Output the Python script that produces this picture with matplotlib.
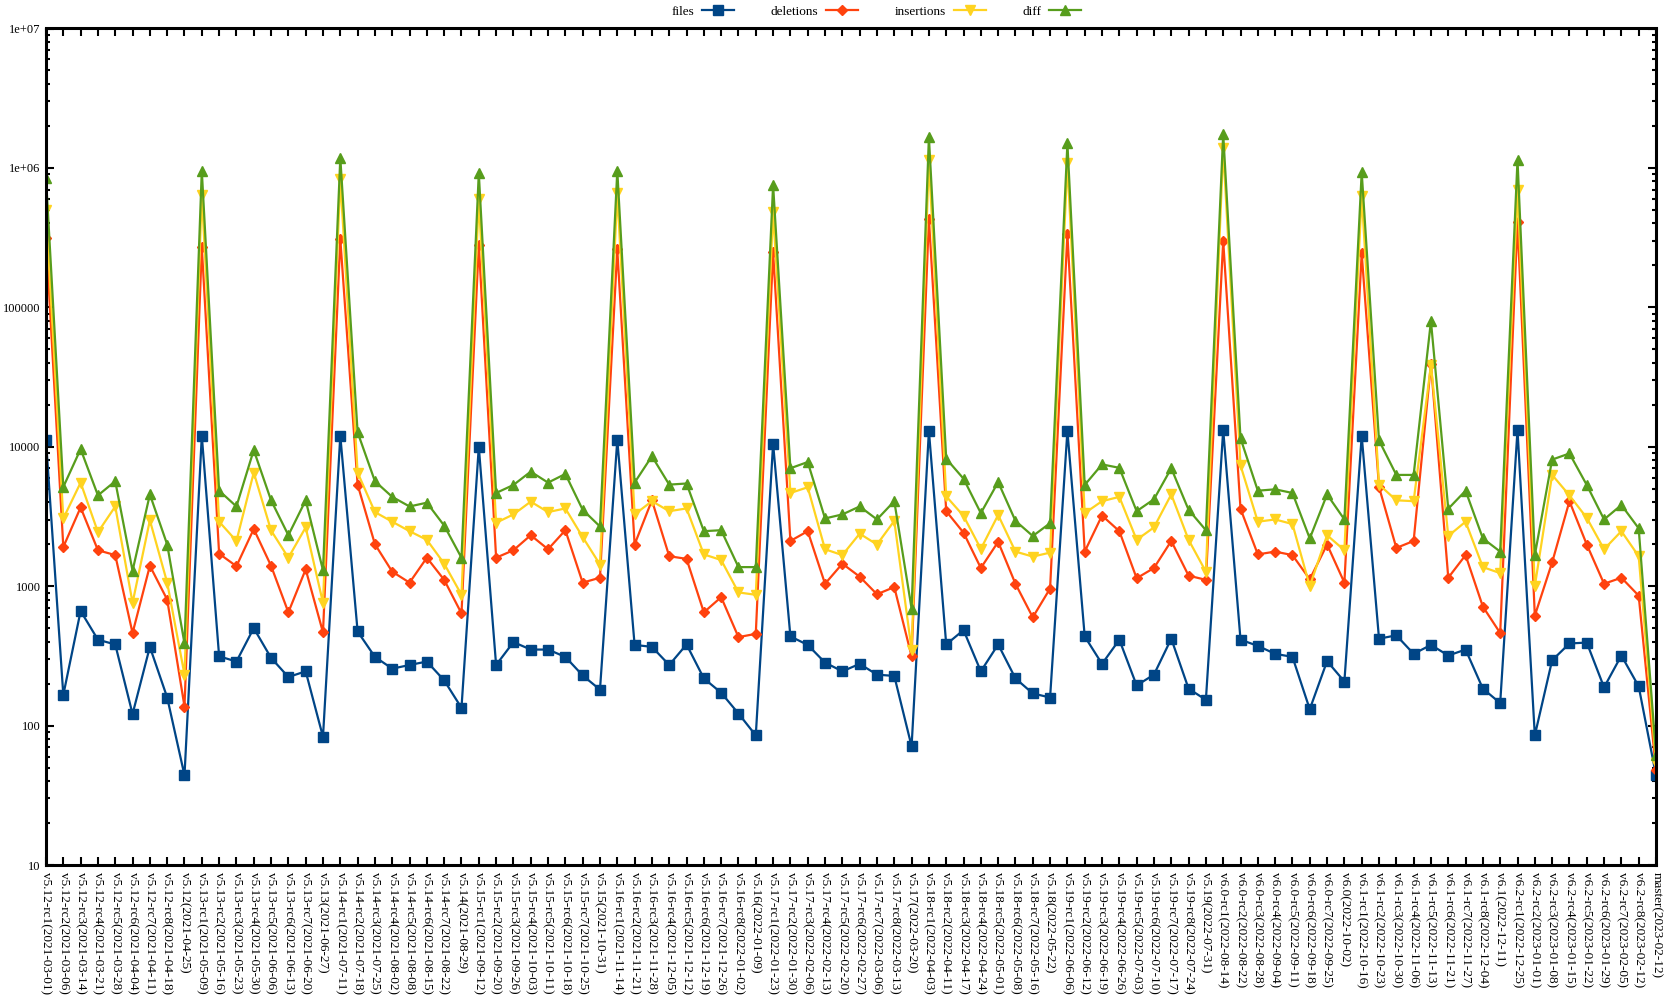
import numpy as np
import matplotlib
matplotlib.use("Agg")
import matplotlib.pyplot as plt
from matplotlib.ticker import LogLocator, FixedLocator, FixedFormatter, NullFormatter

plt.rcParams['font.family'] = ['Liberation Serif', 'DejaVu Serif']

# Versies (x-as)
versions = [
    "v5.12-rc1(2021-03-01)", "v5.12-rc2(2021-03-06)", "v5.12-rc3(2021-03-14)", "v5.12-rc4(2021-03-21)",
    "v5.12-rc5(2021-03-28)", "v5.12-rc6(2021-04-04)", "v5.12-rc7(2021-04-11)", "v5.12-rc8(2021-04-18)",
    "v5.12(2021-04-25)",
    "v5.13-rc1(2021-05-09)", "v5.13-rc2(2021-05-16)", "v5.13-rc3(2021-05-23)", "v5.13-rc4(2021-05-30)",
    "v5.13-rc5(2021-06-06)", "v5.13-rc6(2021-06-13)", "v5.13-rc7(2021-06-20)", "v5.13(2021-06-27)",
    "v5.14-rc1(2021-07-11)", "v5.14-rc2(2021-07-18)", "v5.14-rc3(2021-07-25)", "v5.14-rc4(2021-08-02)",
    "v5.14-rc5(2021-08-08)", "v5.14-rc6(2021-08-15)", "v5.14-rc7(2021-08-22)", "v5.14(2021-08-29)",
    "v5.15-rc1(2021-09-12)", "v5.15-rc2(2021-09-20)", "v5.15-rc3(2021-09-26)", "v5.15-rc4(2021-10-03)",
    "v5.15-rc5(2021-10-11)", "v5.15-rc6(2021-10-18)", "v5.15-rc7(2021-10-25)", "v5.15(2021-10-31)",
    "v5.16-rc1(2021-11-14)", "v5.16-rc2(2021-11-21)", "v5.16-rc3(2021-11-28)", "v5.16-rc4(2021-12-05)",
    "v5.16-rc5(2021-12-12)", "v5.16-rc6(2021-12-19)", "v5.16-rc7(2021-12-26)", "v5.16-rc8(2022-01-02)",
    "v5.16(2022-01-09)",
    "v5.17-rc1(2022-01-23)", "v5.17-rc2(2022-01-30)", "v5.17-rc3(2022-02-06)", "v5.17-rc4(2022-02-13)",
    "v5.17-rc5(2022-02-20)", "v5.17-rc6(2022-02-27)", "v5.17-rc7(2022-03-06)", "v5.17-rc8(2022-03-13)",
    "v5.17(2022-03-20)",
    "v5.18-rc1(2022-04-03)", "v5.18-rc2(2022-04-11)", "v5.18-rc3(2022-04-17)", "v5.18-rc4(2022-04-24)",
    "v5.18-rc5(2022-05-01)", "v5.18-rc6(2022-05-08)", "v5.18-rc7(2022-05-16)", "v5.18(2022-05-22)",
    "v5.19-rc1(2022-06-06)", "v5.19-rc2(2022-06-12)", "v5.19-rc3(2022-06-19)", "v5.19-rc4(2022-06-26)",
    "v5.19-rc5(2022-07-03)", "v5.19-rc6(2022-07-10)", "v5.19-rc7(2022-07-17)", "v5.19-rc8(2022-07-24)",
    "v5.19(2022-07-31)",
    "v6.0-rc1(2022-08-14)", "v6.0-rc2(2022-08-22)", "v6.0-rc3(2022-08-28)", "v6.0-rc4(2022-09-04)",
    "v6.0-rc5(2022-09-11)", "v6.0-rc6(2022-09-18)", "v6.0-rc7(2022-09-25)", "v6.0(2022-10-02)",
    "v6.1-rc1(2022-10-16)", "v6.1-rc2(2022-10-23)", "v6.1-rc3(2022-10-30)", "v6.1-rc4(2022-11-06)",
    "v6.1-rc5(2022-11-13)", "v6.1-rc6(2022-11-21)", "v6.1-rc7(2022-11-27)", "v6.1-rc8(2022-12-04)",
    "v6.1(2022-12-11)",
    "v6.2-rc1(2022-12-25)", "v6.2-rc2(2023-01-01)", "v6.2-rc3(2023-01-08)", "v6.2-rc4(2023-01-15)",
    "v6.2-rc5(2023-01-22)", "v6.2-rc6(2023-01-29)", "v6.2-rc7(2023-02-05)", "v6.2-rc8(2023-02-12)",
    "master(2023-02-12)",
]

files = [11100, 166, 664, 413, 382, 121, 367, 159, 44,
         12000, 314, 288, 500, 306, 223, 245, 83,
         12000, 473, 311, 256, 272, 288, 211, 134,
         10000, 272, 397, 351, 351, 311, 229, 181,
         11200, 379, 367, 272, 382, 218, 172, 122, 85,
         10500, 436, 379, 283, 245, 277, 232, 227, 71,
         13000, 382, 484, 245, 382, 218, 170, 159,
         13000, 436, 277, 413, 194, 232, 420, 184, 153,
         13200, 413, 373, 327, 311, 131, 290, 207,
         12000, 420, 444, 327, 379, 318, 351, 184, 145,
         13200, 85, 294, 388, 394, 188, 318, 191,
         44]

deletions = [316000, 1910, 3670, 1810, 1670, 461, 1400, 801, 137,
             270000, 1710, 1390, 2570, 1400, 649, 1320, 466,
             309000, 5350, 2000, 1270, 1060, 1600, 1110, 638,
             281000, 1600, 1810, 2320, 1840, 2520, 1060, 1150,
             260000, 1990, 4130, 1640, 1570, 649, 834, 431, 455,
             249000, 2110, 2480, 1040, 1450, 1170, 875, 985, 314,
             433000, 3450, 2420, 1350, 2080, 1040, 598, 962,
             334000, 1770, 3210, 2480, 1140, 1350, 2110, 1190, 1110,
             299000, 3590, 1690, 1770, 1670, 1120, 1990, 1060,
             244000, 5150, 1880, 2110, 39100, 1150, 1670, 713, 461,
             408000, 614, 1480, 4070, 1990, 1040, 1150, 855,
             48]

insertions = [500000, 3060, 5530, 2440, 3730, 759, 2970, 1060, 232,
              643000, 2900, 2110, 6530, 2510, 1600, 2640, 759,
              834000, 6530, 3400, 2900, 2480, 2150, 1450, 867,
              594000, 2850, 3270, 4040, 3400, 3610, 2250, 1430,
              658000, 3270, 4070, 3450, 3610, 1690, 1540, 902, 867,
              481000, 4660, 5120, 1840, 1670, 2380, 1990, 2940, 351,
              1140000, 4410, 3190, 1850, 3240, 1770, 1630, 1740,
              1090000, 3340, 4070, 4370, 2150, 2640, 4550, 2150, 1270,
              1380000, 7350, 2900, 3010, 2790, 1000, 2320, 1810,
              633000, 5350, 4130, 4070, 38600, 2290, 2900, 1370, 1240,
              695000, 1000, 6280, 4480, 3090, 1840, 2480, 1640,
              54]

diff = [847000, 5150, 9620, 4480, 5660, 1290, 4550, 1990, 388,
        953000, 4840, 3730, 9470, 4130, 2320, 4130, 1300,
        1180000, 12700, 5660, 4370, 3730, 3970, 2720, 1600,
        917000, 4660, 5320, 6630, 5530, 6380, 3530, 2680,
        953000, 5530, 8550, 5350, 5450, 2480, 2520, 1370, 1370,
        753000, 7010, 7770, 3060, 3270, 3730, 3010, 4070, 690,
        1660000, 8210, 5900, 3340, 5580, 2940, 2290, 2830,
        1500000, 5320, 7470, 7060, 3450, 4200, 7010, 3530, 2520,
        1750000, 11500, 4840, 4950, 4660, 2200, 4550, 3010,
        931000, 11100, 6280, 6280, 79600, 3590, 4840, 2200, 1770,
        1140000, 1670, 8090, 8950, 5320, 3010, 3820, 2600,
        62]

ytick_values = [10, 100, 1000, 10000, 100000, 1e6, 1e7]
ytick_labels = ["10", "100", "1000", "10000", "100000", "1e+06", "1e+07"]

x = np.arange(len(versions))

fig = plt.figure(figsize=(16.69, 9.96), dpi=100)
ax = fig.add_axes([46 / 1669, 1 - 865 / 996, (1656 - 46) / 1669, (865 - 28.5) / 996])

ax.plot(x, files, color='#004586', lw=1.6, marker='s', ms=7, label='files')
ax.plot(x, deletions, color='#ff420e', lw=1.6, marker='D', ms=5.5, label='deletions')
ax.plot(x, insertions, color='#ffd320', lw=1.6, marker='v', ms=7, label='insertions')
ax.plot(x, diff, color='#579d1c', lw=1.6, marker='^', ms=7, label='diff')

ax.set_yscale('log')
ax.set_ylim(10, 1e7)
ax.set_xlim(0, len(versions) - 1)

ax.yaxis.set_major_locator(FixedLocator(ytick_values))
ax.yaxis.set_major_formatter(FixedFormatter(ytick_labels))
ax.yaxis.set_minor_locator(LogLocator(base=10, subs=np.arange(2, 10), numticks=20))
ax.yaxis.set_minor_formatter(NullFormatter())

ax.set_xticks(x)
ax.set_xticklabels(versions, rotation=-90, ha='center', va='top', fontsize=9.5)

ax.tick_params(axis='both', which='both', direction='in', top=True, right=True, width=1.5)
ax.tick_params(axis='both', which='major', length=6)
ax.tick_params(axis='y', which='minor', length=3)
ax.tick_params(axis='y', labelsize=9, pad=4)
ax.tick_params(axis='x', pad=5)

for spine in ax.spines.values():
    spine.set_linewidth(2.2)

fig.legend(loc='center', bbox_to_anchor=(0.525, 1 - 12 / 996), ncol=4, frameon=False,
           markerfirst=False, handlelength=2.4, columnspacing=2.8, handletextpad=0.6,
           fontsize=9.5)

fig.savefig('out.png', dpi=100)
